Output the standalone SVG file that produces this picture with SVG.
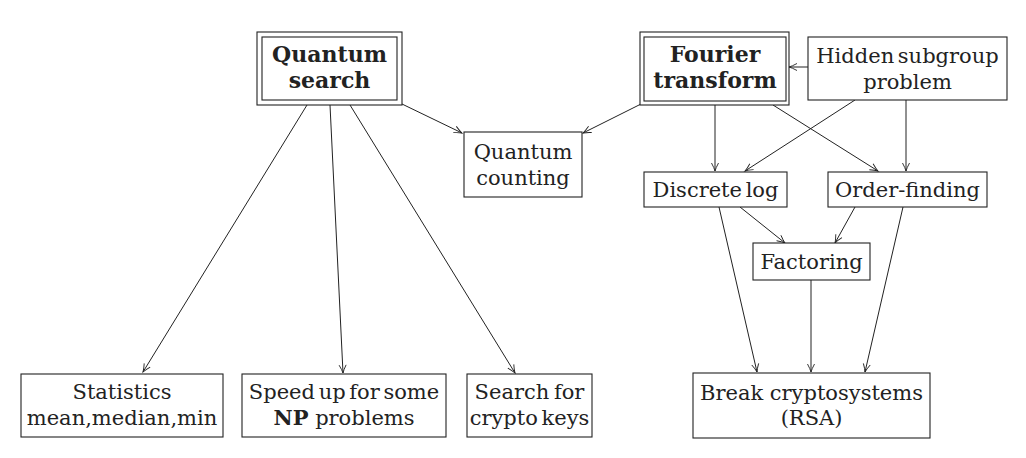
<svg xmlns="http://www.w3.org/2000/svg" width="1026" height="458" viewBox="0 0 1026 458">
<style>
.n{fill:#fff;stroke:#222;stroke-width:1.1}
text{font-family:'DejaVu Serif','Liberation Serif',serif;font-size:21px;fill:#222;text-anchor:middle}
.b{font-weight:bold;font-size:22px}
.c line{stroke:#222;stroke-width:1;marker-end:url(#a)}
</style>
<defs>
<marker id="a" markerUnits="userSpaceOnUse" markerWidth="12" markerHeight="10" viewBox="-9 -5 10 10" refX="0" refY="0" orient="auto">
<path d="M-8,-3.5 Q-3,-0.8 0,0 Q-3,0.8 -8,3.5" fill="none" stroke="#222" stroke-width="0.9"/>
</marker>
</defs>
<rect width="1026" height="458" fill="#fff"/>
<g class="c">
<line x1="307" y1="105" x2="143" y2="372"/>
<line x1="330" y1="105" x2="343" y2="373"/>
<line x1="350" y1="105" x2="515" y2="373"/>
<line x1="402" y1="104" x2="462" y2="133"/>
<line x1="641" y1="104" x2="583" y2="133"/>
<line x1="715" y1="105" x2="715" y2="171"/>
<line x1="773" y1="105" x2="878" y2="171"/>
<line x1="855" y1="100" x2="745" y2="171"/>
<line x1="906" y1="100" x2="906" y2="171"/>
<line x1="808" y1="67" x2="789" y2="67"/>
<line x1="740" y1="207" x2="785" y2="243"/>
<line x1="855" y1="207" x2="835" y2="243"/>
<line x1="719" y1="207" x2="757" y2="372"/>
<line x1="903" y1="207" x2="865" y2="372"/>
<line x1="811" y1="280" x2="811" y2="372"/>
</g>
<g id="quantum-search">
<rect class="n" x="257" y="32" width="145" height="73"/>
<rect class="n" x="262" y="37" width="135" height="63"/>
<text class="b" x="329.5" y="62">Quantum</text>
<text class="b" x="329.5" y="88">search</text>
</g>
<g id="fourier-transform">
<rect class="n" x="640" y="32" width="149" height="73"/>
<rect class="n" x="644" y="37" width="142" height="64"/>
<text class="b" x="715" y="62">Fourier</text>
<text class="b" x="715" y="88">transform</text>
</g>
<g id="hidden-subgroup">
<rect class="n" x="808" y="37" width="199" height="63"/>
<text x="907.5" y="63" word-spacing="-3">Hidden subgroup</text>
<text x="907.5" y="89">problem</text>
</g>
<g id="quantum-counting">
<rect class="n" x="464" y="132" width="118" height="65"/>
<text x="523" y="159">Quantum</text>
<text x="523" y="185">counting</text>
</g>
<g id="discrete-log">
<rect class="n" x="644" y="172" width="143" height="35"/>
<text x="715.5" y="197" word-spacing="-3">Discrete log</text>
</g>
<g id="order-finding">
<rect class="n" x="828" y="172" width="159" height="35"/>
<text x="907.5" y="197">Order-finding</text>
</g>
<g id="factoring">
<rect class="n" x="753" y="243" width="117" height="37"/>
<text x="811.5" y="269">Factoring</text>
</g>
<g id="statistics">
<rect class="n" x="21" y="374" width="202" height="63"/>
<text x="122" y="399">Statistics</text>
<text x="122" y="425">mean,median,min</text>
</g>
<g id="speed-up">
<rect class="n" x="242" y="374" width="204" height="63"/>
<text x="344" y="399" word-spacing="-3">Speed up for some</text>
<text x="344" y="425"><tspan font-weight="bold">NP</tspan>  problems</text>
</g>
<g id="search-keys">
<rect class="n" x="467" y="374" width="125" height="63"/>
<text x="529.5" y="399" word-spacing="-2">Search for</text>
<text x="529.5" y="425" word-spacing="-3">crypto keys</text>
</g>
<g id="break-crypto">
<rect class="n" x="693" y="373" width="237" height="65"/>
<text x="811.5" y="400">Break cryptosystems</text>
<text x="811.5" y="425">(RSA)</text>
</g>
</svg>
